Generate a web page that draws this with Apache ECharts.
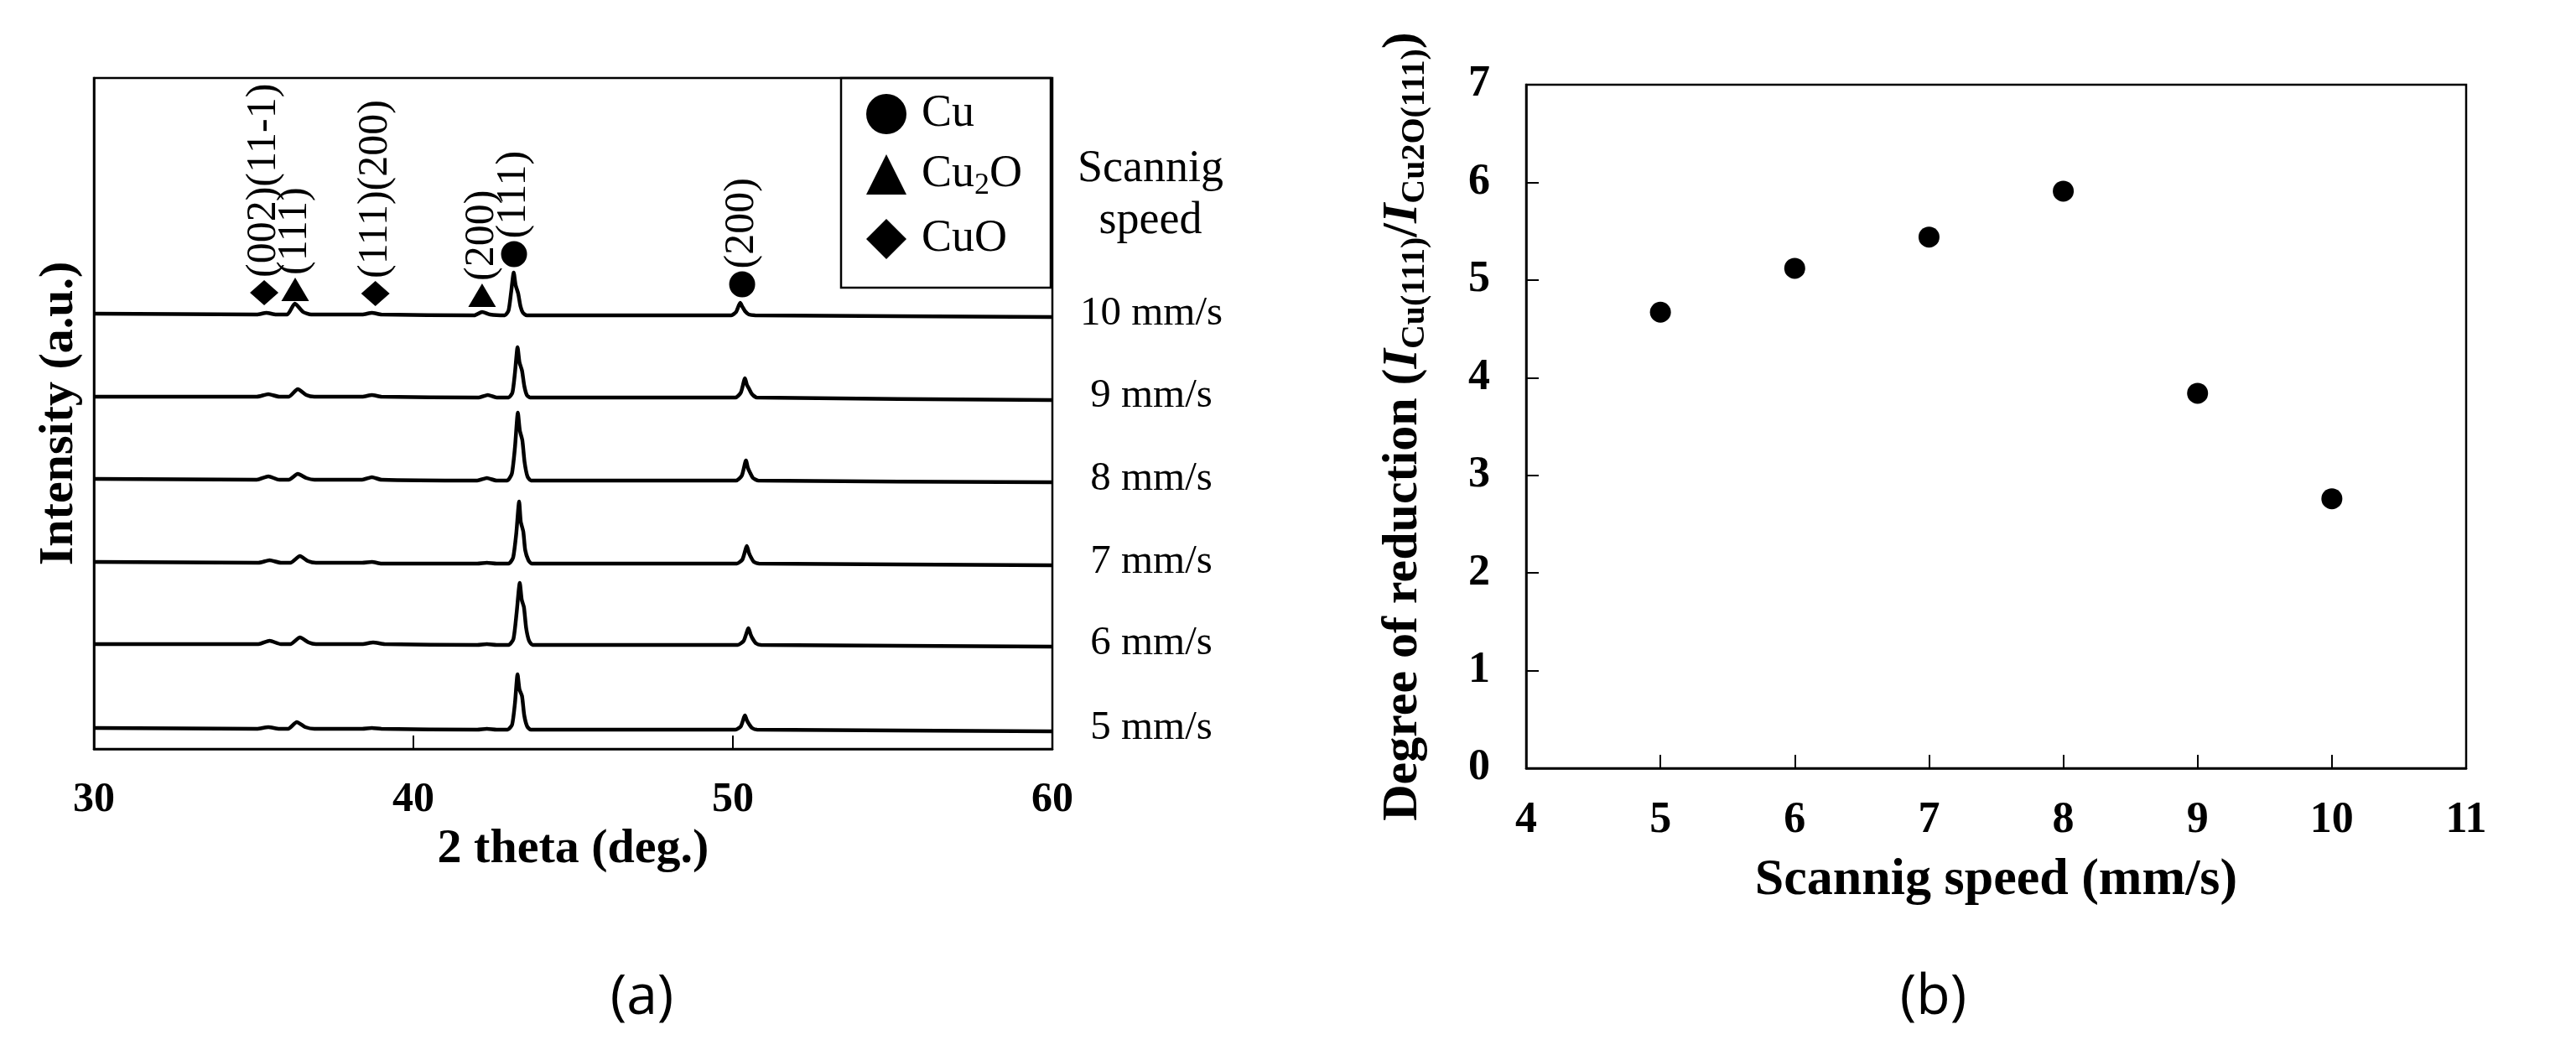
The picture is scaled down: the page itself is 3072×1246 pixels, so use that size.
<!DOCTYPE html>
<html>
<head>
<meta charset="utf-8">
<script src="https://cdn.jsdelivr.net/npm/echarts@6/dist/echarts.min.js"></script>
<style>
  html, body { margin: 0; padding: 0; background: #fff; }
  #chart { width: 3072px; height: 1246px; }
</style>
</head>
<body>
<div id="chart"></div>
<script>
// (a) XRD patterns, 2theta (deg.) vs intensity above each trace's own baseline (a.u.)
var speeds = ['10 mm/s', '9 mm/s', '8 mm/s', '7 mm/s', '6 mm/s', '5 mm/s'];
var offsets = [517, 419, 320, 221, 124, 23];

var trace10 = [[30,2],[35.1,1],[35.4,3],[35.7,1],[36.05,1],[36.29,14],[36.55,4],[36.8,1],[38.4,1],[38.7,3],[39.0,1],
  [41.9,0],[42.15,4],[42.4,1],[42.86,0],[42.98,6],[43.06,28],[43.14,51],[43.2,36],[43.28,26],[43.35,11],[43.43,3],[43.55,0],
  [49.95,0],[50.1,4],[50.23,15],[50.3,10],[50.38,5],[50.5,1],[50.7,0],[60,-2]];
var trace9 = [[30,1],[35.1,1],[35.46,4],[35.8,1],[36.1,1],[36.38,10],[36.65,3],[36.9,1],[38.4,1],[38.7,3],[39.0,1],
  [42.05,0],[42.33,3],[42.6,0],[42.98,0],[43.1,6],[43.18,30],[43.26,60],[43.32,42],[43.4,32],[43.47,14],[43.55,3],[43.65,0],
  [50.08,0],[50.25,6],[50.38,23],[50.44,15],[50.5,11],[50.6,4],[50.75,0],[60,-3]];
var trace8 = [[30,2],[35.1,1],[35.46,5],[35.8,1],[36.1,1],[36.38,8],[36.65,3],[36.9,1],[38.4,1],[38.7,4],[39.0,1],
  [42.0,0],[42.3,3],[42.6,0],[42.93,0],[43.08,8],[43.18,40],[43.27,81],[43.33,60],[43.41,48],[43.48,22],[43.57,5],[43.68,0],
  [50.1,0],[50.28,6],[50.41,24],[50.47,15],[50.53,10],[50.63,3],[50.8,0],[60,-2]];
var trace7 = [[30,2],[35.15,1],[35.5,4],[35.85,1],[36.15,1],[36.45,9],[36.7,3],[36.95,1],[38.4,1],[38.7,2],[39.0,0],
  [42.0,0],[42.3,1],[42.6,0],[42.98,0],[43.12,7],[43.22,36],[43.31,74],[43.36,50],[43.44,38],[43.5,16],[43.6,4],[43.7,0],
  [50.12,0],[50.3,5],[50.44,21],[50.5,13],[50.56,8],[50.66,2],[50.82,0],[60,-2]];
var trace6 = [[30,1],[35.15,1],[35.5,5],[35.85,1],[36.15,1],[36.45,9],[36.72,3],[36.95,1],[38.4,1],[38.74,3],[39.1,1],
  [42.0,0],[42.3,1],[42.6,0],[42.98,0],[43.13,7],[43.23,38],[43.33,74],[43.39,54],[43.46,45],[43.53,20],[43.62,5],[43.73,0],
  [50.15,0],[50.34,5],[50.49,20],[50.55,13],[50.61,8],[50.72,2],[50.88,0],[60,-2]];
var trace5 = [[30,2],[35.1,1],[35.46,3],[35.8,1],[36.08,1],[36.35,9],[36.62,3],[36.9,1],[38.4,1],[38.7,2],[39.0,1],
  [42.0,0],[42.3,1],[42.6,0],[42.95,0],[43.09,6],[43.18,32],[43.26,66],[43.32,48],[43.4,40],[43.47,17],[43.56,4],[43.67,0],
  [50.08,0],[50.25,4],[50.38,17],[50.44,11],[50.5,7],[50.6,2],[50.76,0],[60,-2]];
var traces = [trace10, trace9, trace8, trace7, trace6, trace5];

// peak markers above the 10 mm/s pattern: [2theta, a.u., label]
var cuPeaks = [[43.15, 590, '(111)'], [50.29, 554, '(200)']];
var cu2oPeaks = [[36.30, 548, '(111)'], [42.15, 541, '(200)']];
var cuoPeaks = [[35.33, 544, '(002)(11-1)'], [38.81, 543, '(111)(200)']];

// (b) degree of reduction vs scanning speed
var scanSpeed = [5, 6, 7, 8, 9, 10];
var reduction = [4.67, 5.12, 5.44, 5.91, 3.84, 2.76];

var serif = 'Liberation Serif';
var chart = echarts.init(document.getElementById('chart'));

function peakSeries(name, symbol, size, list) {
  return {
    name: name, type: 'scatter', xAxisIndex: 0, yAxisIndex: 0,
    symbol: symbol, symbolSize: size,
    itemStyle: { color: '#000', opacity: 1 },
    data: list.map(function (p) { return [p[0], p[1], p[2]]; }),
    label: {
      show: true, position: 'top', distance: 3, rotate: 90,
      align: 'left', verticalAlign: 'middle',
      formatter: function (d) { return d.value[2]; },
      fontFamily: serif, fontSize: 50, color: '#000'
    },
    z: 5
  };
}

var series = traces.map(function (t, i) {
  return {
    name: speeds[i], type: 'line', xAxisIndex: 0, yAxisIndex: 0,
    data: t.map(function (p) { return [p[0], p[1] + offsets[i]]; }),
    showSymbol: false, smooth: 0.2, silent: true,
    lineStyle: { color: '#000', width: 4.5 }
  };
});
series.push(peakSeries('Cu', 'circle', 31, cuPeaks));
series.push(peakSeries('Cu2O', 'triangle', [33, 28], cu2oPeaks));
series.push(peakSeries('CuO', 'diamond', [34, 30], cuoPeaks));
series.push({
  type: 'scatter', xAxisIndex: 1, yAxisIndex: 1,
  symbol: 'circle', symbolSize: 25,
  itemStyle: { color: '#000', opacity: 1 },
  data: scanSpeed.map(function (s, i) { return [s, reduction[i]]; })
});

var axisBlack = { lineStyle: { color: '#000', width: 2.5 } };

chart.setOption({
  animation: false,
  backgroundColor: '#fff',
  grid: [
    { left: 112, top: 93, width: 1143, height: 800, show: true, borderColor: '#000', borderWidth: 2.5, outerBoundsMode: 'none' },
    { left: 1820, top: 101, width: 1121, height: 815, show: true, borderColor: '#000', borderWidth: 2.5, outerBoundsMode: 'none' }
  ],
  legend: {
    data: ['Cu', 'Cu2O', 'CuO'],
    orient: 'vertical', left: 1003, top: 93,
    itemWidth: 48, itemHeight: 48, itemGap: 18,
    padding: [16, 34, 31, 30],
    borderColor: '#000', borderWidth: 2.5,
    selectedMode: false,
    itemStyle: { opacity: 1 },
    formatter: function (n) { return n === 'Cu2O' ? '{n|Cu}{s|2}{n|O}' : '{n|' + n + '}'; },
    textStyle: {
      padding: [0, 0, 0, 13],
      rich: {
        n: { fontFamily: serif, fontSize: 54, lineHeight: 64, color: '#000' },
        s: { fontFamily: serif, fontSize: 36, lineHeight: 36, verticalAlign: 'bottom', color: '#000' }
      }
    }
  },
  xAxis: [
    {
      gridIndex: 0, type: 'value', min: 30, max: 60, interval: 10,
      name: '2 theta (deg.)', nameLocation: 'middle', nameGap: 86,
      nameTextStyle: { fontFamily: serif, fontWeight: 'bold', fontSize: 58, color: '#000' },
      axisLine: axisBlack,
      axisTick: { inside: true, length: 16, lineStyle: { color: '#000', width: 2 } },
      axisLabel: { margin: 36, fontFamily: serif, fontWeight: 'bold', fontSize: 50, color: '#000' },
      splitLine: { show: false }
    },
    {
      gridIndex: 1, type: 'value', min: 4, max: 11, interval: 1,
      name: 'Scannig speed (mm/s)', nameLocation: 'middle', nameGap: 103,
      nameTextStyle: { fontFamily: serif, fontWeight: 'bold', fontSize: 62, color: '#000' },
      axisLine: axisBlack,
      axisTick: { inside: true, length: 16, lineStyle: { color: '#000', width: 2 } },
      axisLabel: { margin: 37, fontFamily: serif, fontWeight: 'bold', fontSize: 52, color: '#000' },
      splitLine: { show: false }
    }
  ],
  yAxis: [
    {
      gridIndex: 0, type: 'value', min: 0, max: 800,
      name: 'Intensity (a.u.)', nameLocation: 'middle', nameGap: 12, nameRotate: 90,
      nameTextStyle: { fontFamily: serif, fontWeight: 'bold', fontSize: 58, color: '#000' },
      axisLine: axisBlack, axisTick: { show: false }, axisLabel: { show: false },
      splitLine: { show: false }
    },
    {
      gridIndex: 1, type: 'value', min: 0, max: 7, interval: 1,
      name: '{t|Degree of reduction (}{i|I}{s|Cu(111)}{t|/}{i|I}{s|Cu2O(111)}{t|)}',
      nameLocation: 'middle', nameGap: 112, nameRotate: 90,
      nameTextStyle: {
        fontFamily: serif, fontWeight: 'bold', fontSize: 60, color: '#000',
        rich: {
          t: { fontFamily: serif, fontWeight: 'bold', fontSize: 60, lineHeight: 70, color: '#000' },
          i: { fontFamily: serif, fontWeight: 'bold', fontStyle: 'italic', fontSize: 60, lineHeight: 70, color: '#000' },
          s: { fontFamily: serif, fontWeight: 'bold', fontSize: 40, lineHeight: 40, verticalAlign: 'bottom', color: '#000' }
        }
      },
      axisLine: axisBlack,
      axisTick: { inside: true, length: 15, lineStyle: { color: '#000', width: 2 } },
      axisLabel: { margin: 43, fontFamily: serif, fontWeight: 'bold', fontSize: 52, color: '#000' },
      splitLine: { show: false }
    }
  ],
  series: series
});

// texts next to the patterns and panel captions
var texts = speeds.map(function (s, i) {
  var p = chart.convertToPixel({ xAxisIndex: 0, yAxisIndex: 0 }, [60, offsets[i]]);
  return {
    type: 'text', x: p[0] + 118, y: p[1] - 2,
    style: { text: s, fontFamily: serif, fontSize: 49, fill: '#000', align: 'center', verticalAlign: 'middle' }
  };
});
var head = chart.convertToPixel({ xAxisIndex: 0, yAxisIndex: 0 }, [60, 800]);
texts.push({
  type: 'text', x: head[0] + 117, y: head[1] + 140,
  style: { text: 'Scannig\nspeed', fontFamily: serif, fontSize: 54, lineHeight: 62, fill: '#000', align: 'center', verticalAlign: 'middle' }
});
var capA = chart.convertToPixel({ xAxisIndex: 0, yAxisIndex: 0 }, [45, 0]);
var capB = chart.convertToPixel({ xAxisIndex: 1, yAxisIndex: 1 }, [7.5, 0]);
texts.push({
  type: 'text', x: capA[0] + 82, y: capA[1] + 297,
  style: { text: '(a)', fontFamily: 'Open Sans', fontSize: 66, fill: '#000', align: 'center', verticalAlign: 'middle' }
});
texts.push({
  type: 'text', x: capB[0] - 75, y: capB[1] + 274,
  style: { text: '(b)', fontFamily: 'Open Sans', fontSize: 66, fill: '#000', align: 'center', verticalAlign: 'middle' }
});
chart.setOption({ graphic: texts });
</script>
</body>
</html>
